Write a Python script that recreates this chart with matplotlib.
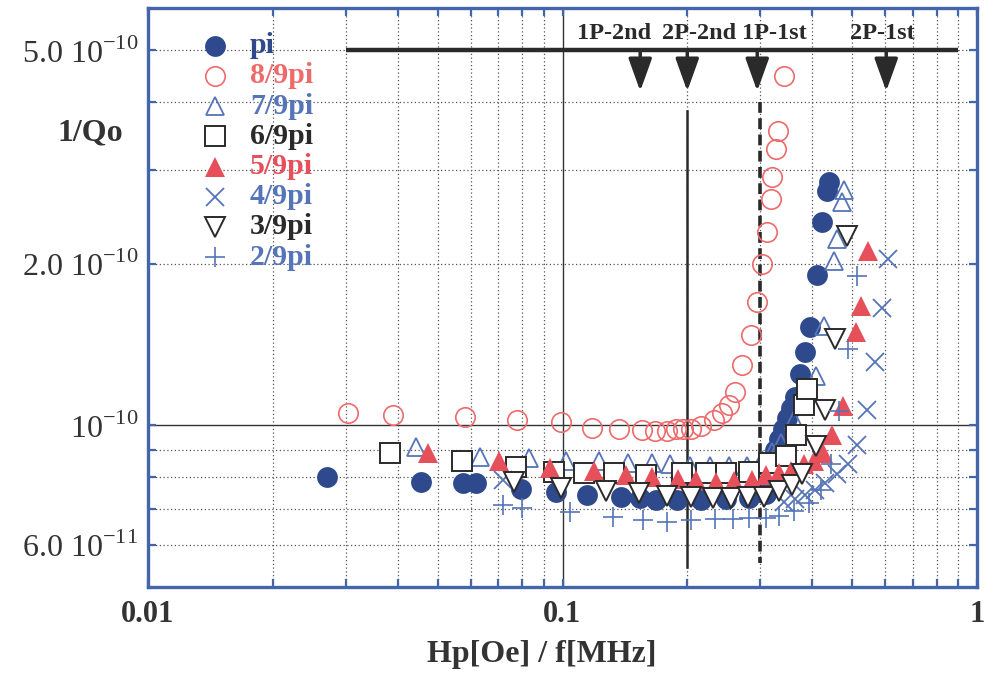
import matplotlib.pyplot as plt
from matplotlib.ticker import NullFormatter

plt.rcParams['font.family'] = ['Liberation Serif', 'DejaVu Serif']
plt.rcParams['mathtext.fontset'] = 'custom'
plt.rcParams['mathtext.rm'] = 'Liberation Serif'
plt.rcParams['mathtext.bf'] = 'Liberation Serif:bold'

# 1/Qo against Hp/f for each mode (pi ... 2/9 pi)
x_pi = [0.0271, 0.0456, 0.0576, 0.0619, 0.0796, 0.0962, 0.1143, 0.1382, 0.1536, 0.168,
        0.1888, 0.2159, 0.2481, 0.282, 0.3101, 0.3189, 0.3262, 0.3334, 0.3409, 0.3486,
        0.3565, 0.3645, 0.3748, 0.3854, 0.3963, 0.4121, 0.4238, 0.4357, 0.4383]
y_pi = [8.03e-11, 7.86e-11, 7.82e-11, 7.82e-11, 7.62e-11, 7.52e-11, 7.43e-11, 7.37e-11, 7.34e-11, 7.27e-11,
        7.27e-11, 7.27e-11, 7.31e-11, 7.34e-11, 7.46e-11, 8.64e-11, 9.02e-11, 9.42e-11, 9.83e-11, 1.031e-10,
        1.076e-10, 1.128e-10, 1.245e-10, 1.369e-10, 1.525e-10, 1.907e-10, 2.394e-10, 2.737e-10, 2.847e-10]

x_8 = [0.0303, 0.039, 0.0582, 0.0778, 0.0989, 0.1175, 0.1367, 0.1553, 0.1671, 0.1786,
       0.1877, 0.1952, 0.2041, 0.2159, 0.2321, 0.2427, 0.2523, 0.2609, 0.2713, 0.2853,
       0.295, 0.3032, 0.3118, 0.3189, 0.3206, 0.3279, 0.3316, 0.3428]
y_8 = [1.057e-10, 1.048e-10, 1.039e-10, 1.026e-10, 1.013e-10, 9.91e-11, 9.87e-11, 9.79e-11, 9.75e-11, 9.75e-11,
       9.83e-11, 9.83e-11, 9.83e-11, 9.96e-11, 1.022e-10, 1.053e-10, 1.094e-10, 1.157e-10, 1.294e-10, 1.473e-10,
       1.698e-10, 2.0e-10, 2.295e-10, 2.64e-10, 2.91e-10, 3.28e-10, 3.54e-10, 4.49e-10]

x_7 = [0.0443, 0.0633, 0.0832, 0.1022, 0.1222, 0.1437, 0.1643, 0.1816, 0.203, 0.2269,
       0.2523, 0.279, 0.3032, 0.3206, 0.3372, 0.3625, 0.4098, 0.4285, 0.453, 0.4607,
       0.4711, 0.4764]
y_7 = [9.10e-11, 8.75e-11, 8.68e-11, 8.57e-11, 8.57e-11, 8.53e-11, 8.50e-11, 8.46e-11, 8.42e-11, 8.42e-11,
       8.42e-11, 8.42e-11, 8.64e-11, 8.94e-11, 9.29e-11, 1.026e-10, 1.235e-10, 1.531e-10, 2.025e-10, 2.227e-10,
       2.61e-10, 2.75e-10]

x_6 = [0.0383, 0.0573, 0.0774, 0.0956, 0.1124, 0.1329, 0.1588, 0.1942, 0.222, 0.2481,
       0.282, 0.3153, 0.3467, 0.3666, 0.3833, 0.3898]
y_6 = [8.90e-11, 8.60e-11, 8.38e-11, 8.20e-11, 8.17e-11, 8.17e-11, 8.10e-11, 8.17e-11, 8.17e-11, 8.17e-11,
       8.20e-11, 8.53e-11, 8.79e-11, 9.58e-11, 1.090e-10, 1.168e-10]

x_5 = [0.0474, 0.0704, 0.0935, 0.1189, 0.1421, 0.1643, 0.1899, 0.2099, 0.2347, 0.2595,
       0.2869, 0.3101, 0.3334, 0.3565, 0.3833, 0.4052, 0.4261, 0.448, 0.4738, 0.5093,
       0.5237, 0.5445]
y_5 = [8.90e-11, 8.60e-11, 8.35e-11, 8.24e-11, 8.10e-11, 8.03e-11, 7.96e-11, 7.93e-11, 7.86e-11, 7.89e-11,
       7.93e-11, 8.07e-11, 8.17e-11, 8.24e-11, 8.46e-11, 8.57e-11, 8.90e-11, 9.58e-11, 1.085e-10, 1.492e-10,
       1.669e-10, 2.115e-10]

x_4 = [0.072, 0.3428, 0.3645, 0.3854, 0.4075, 0.4309, 0.4607, 0.4871, 0.5122, 0.5415,
       0.5662, 0.5888, 0.6088]
y_4 = [7.93e-11, 7.21e-11, 7.31e-11, 7.43e-11, 7.59e-11, 7.82e-11, 8.13e-11, 8.46e-11, 9.21e-11, 1.071e-10,
       1.311e-10, 1.655e-10, 2.043e-10]

x_3 = [0.0765, 0.0994, 0.1271, 0.1528, 0.1786, 0.2041, 0.2308, 0.2552, 0.2805, 0.3067,
       0.3334, 0.3585, 0.3791, 0.4098, 0.4309, 0.4556, 0.4844]
y_3 = [7.86e-11, 7.66e-11, 7.56e-11, 7.49e-11, 7.40e-11, 7.37e-11, 7.34e-11, 7.34e-11, 7.37e-11, 7.37e-11,
       7.56e-11, 7.76e-11, 8.13e-11, 9.14e-11, 1.071e-10, 1.448e-10, 2.257e-10]

x_2 = [0.072, 0.08, 0.1045, 0.1321, 0.1562, 0.1786, 0.2041, 0.2334, 0.2581, 0.282,
       0.3101, 0.3334, 0.3625, 0.394, 0.4214, 0.4456, 0.4656, 0.4871, 0.5122]
y_2 = [7.12e-11, 7.03e-11, 6.91e-11, 6.76e-11, 6.67e-11, 6.62e-11, 6.67e-11, 6.70e-11, 6.70e-11, 6.73e-11,
       6.73e-11, 6.79e-11, 6.94e-11, 7.18e-11, 7.59e-11, 8.46e-11, 1.062e-10, 1.39e-10, 1.899e-10]

# resonance positions marked above the data
res_labels = ['1P-2nd', '2P-2nd', '1P-1st', '2P-1st']
res_x = [0.154, 0.2, 0.295, 0.604]
res_label_x = [0.133, 0.213, 0.324, 0.592]

x_ticks = [0.01, 0.1, 1]
x_ticklabels = ['0.01', '0.1', '1']
y_ticks = [6e-11, 1e-10, 2e-10, 5e-10]
y_ticklabels = ['6.0 10$^{-11}$', '10$^{-10}$', '2.0 10$^{-10}$', '5.0 10$^{-10}$']
x_minor = [0.02, 0.03, 0.04, 0.05, 0.06, 0.07, 0.08, 0.09, 0.2, 0.3, 0.4, 0.5, 0.6, 0.7, 0.8, 0.9]
y_minor = [7e-11, 8e-11, 9e-11, 3e-10, 4e-10]

NAVY = '#2f4a8c'
BLUE = '#5575b8'
RED = '#e5505a'
LRED = '#ee6b6b'
FRAME = '#4565ab'
INK = '#2a2a2a'

series = [
    ('pi', x_pi, y_pi, dict(marker='o', ms=15, mfc=NAVY, mec=NAVY, mew=0), NAVY),
    ('8/9pi', x_8, y_8, dict(marker='o', ms=14, mfc='none', mec=LRED, mew=1.2), LRED),
    ('7/9pi', x_7, y_7, dict(marker='^', ms=13, mfc='none', mec=BLUE, mew=1.3), BLUE),
    ('6/9pi', x_6, y_6, dict(marker='s', ms=14, mfc='white', mec=INK, mew=1.4), INK),
    ('5/9pi', x_5, y_5, dict(marker='^', ms=14, mfc=RED, mec=RED, mew=0), RED),
    ('4/9pi', x_4, y_4, dict(marker='x', ms=13, mec=BLUE, mew=1.3), BLUE),
    ('3/9pi', x_3, y_3, dict(marker='v', ms=14, mfc='white', mec=INK, mew=1.4), INK),
    ('2/9pi', x_2, y_2, dict(marker='+', ms=14, mec=BLUE, mew=1.2), BLUE),
]

fig = plt.figure(figsize=(9.94, 6.77), dpi=100)
ax = fig.add_axes([148 / 994, 1 - 587 / 677, 829 / 994, 579 / 677])
ax.set_xscale('log')
ax.set_yscale('log')
ax.set_xlim(0.01, 1)
ax.set_ylim(5e-11, 6e-10)

# grid: dotted minor lines, thin solid line at the decades
for xv in x_minor:
    ax.axvline(xv, color='#555555', lw=0.9, ls=(0, (1, 2)), zorder=1)
for yv in [6e-11] + y_minor + [2e-10, 5e-10]:
    ax.axhline(yv, color='#555555', lw=0.9, ls=(0, (1, 2)), zorder=1)
ax.axvline(0.1, color='#333333', lw=1.0, zorder=1)
ax.axhline(1e-10, color='#333333', lw=1.0, zorder=1)

# resonance markers: bar, arrows and the two vertical guides
ax.plot([0.03, 0.9], [5e-10, 5e-10], color=INK, lw=3.2, solid_capstyle='butt', zorder=3)
for xr in res_x:
    ax.annotate('', xy=(xr, 4.2e-10), xytext=(xr, 5e-10),
                arrowprops=dict(arrowstyle='-|>,head_length=1.0,head_width=0.36',
                                mutation_scale=20, lw=2.5, color=INK,
                                shrinkA=0, shrinkB=0), zorder=3)
for lab, xl in zip(res_labels, res_label_x):
    ax.text(xl, 5.38e-10, lab, ha='center', va='center', fontsize=17.5,
            fontweight='bold', color=INK)
ax.plot([0.2, 0.2], [3.85e-10, 5.45e-11], color=INK, lw=1.8, zorder=3)
ax.plot([0.3, 0.3], [4.0e-10, 5.55e-11], color=INK, lw=2.6, ls=(0, (3, 1.5)), zorder=3)

for i, (name, xs, ys, style, col) in enumerate(series):
    ax.plot(xs, ys, ls='none', zorder=4 + i, **style)

# legend drawn by hand in the upper left corner
for i, (name, xs, ys, style, col) in enumerate(series):
    yy = 0.935 - i * 0.0522
    ax.plot([0.081], [yy], ls='none', transform=ax.transAxes, zorder=20, **style)
    ax.text(0.123, yy, name, transform=ax.transAxes, ha='left', va='center',
            fontsize=21.5, fontweight='bold', color=col, zorder=20)

ax.set_xticks(x_ticks, x_ticklabels)
ax.set_xticks(x_minor, minor=True)
ax.set_yticks(y_ticks, y_ticklabels)
ax.set_yticks(y_minor, minor=True)
ax.xaxis.set_minor_formatter(NullFormatter())
ax.yaxis.set_minor_formatter(NullFormatter())
ax.tick_params(which='both', direction='in', top=True, right=True, color=FRAME,
               width=1.6, length=6)
ax.tick_params(axis='x', pad=9, labelsize=22, labelcolor='#333333')
ax.tick_params(axis='y', pad=7, labelsize=23, labelcolor='#333333')
for t in ax.get_xticklabels():
    t.set_fontweight('bold')

for sp in ax.spines.values():
    sp.set_color(FRAME)
    sp.set_linewidth(2.4)

ax.set_xlabel('Hp[Oe] / f[MHz]', fontsize=23, fontweight='bold', color='#333333')
ax.xaxis.set_label_coords(0.475, -0.117)
ax.xaxis.label.set_va('center')
ax.set_ylabel('1/Qo', fontsize=23, fontweight='bold', color='#333333', rotation=0,
              ha='center', va='center')
ax.yaxis.set_label_coords(-0.07, 0.784)

fig.savefig('out.png', dpi=100)
